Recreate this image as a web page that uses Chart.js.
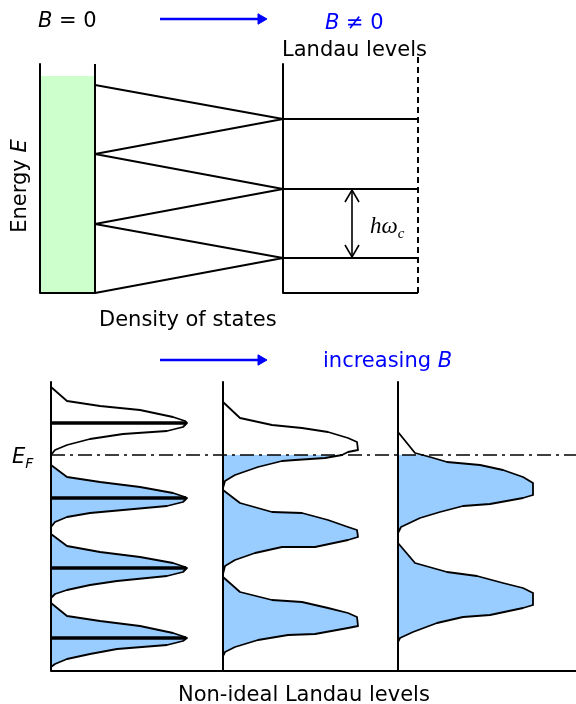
<!DOCTYPE html>
<html>
<head>
<meta charset="utf-8">
<script src="https://cdn.jsdelivr.net/npm/chart.js@4.4.1/dist/chart.umd.min.js"></script>
<style>
html,body{margin:0;padding:0;background:#fff}
canvas{display:block}
</style>
</head>
<body>
<canvas id="fig" width="576" height="704"></canvas>
<script>
// Landau levels figure — everything in drawing units (x right, y down)

// --- top: B = 0 density of states -> ideal Landau levels
var dosBand  = [[40,76],[95,76],[95,293],[40,293]];
var dosBox   = [[40,64],[40,293],[95,293],[95,64]];
var fanLines = [[95,85],[283,119],[95,154],[283,189],[95,224],[283,258],[95,293]];
var llFrame  = [[283,64],[283,293],[418,293]];
var llDashed = [[418,57],[418,293]];
var llLevels = [119,189,258];
var llSpan   = [283,418];
var hwArrow  = [[352,190],[352,257]];
var hwHeadUp = [[345,202],[352,190],[359,202]];
var hwHeadDn = [[345,245],[352,257],[359,245]];
var arrowTop = [[160,19],[261,19]];

// --- bottom: broadened levels for increasing B
var arrowBot = [[160,360],[261,360]];
var panelX   = [51,223,398];
var panelY   = [382,671];
var baseLine = [[51,671],[576,671]];
var fermi    = [[51,455],[576,455]];

var peakA1 = [[51,387],[67,401],[100,406],[140,410],[173,417],[185,421],[187,423],[183,427],[167,431],[123,434],[90,439],[67,445],[55,450],[51,455]];
var peakA2 = [[51,465],[67,477],[100,482],[140,487],[173,493],[185,497],[187,498],[183,502],[167,506],[123,510],[90,513],[67,517],[55,522],[51,527]];
var peakA3 = [[51,534],[67,546],[100,552],[140,557],[173,563],[185,567],[187,568],[183,572],[167,576],[117,581],[90,585],[67,590],[55,594],[51,598]];
var peakA4 = [[51,603],[67,616],[100,621],[140,626],[173,633],[185,637],[187,638],[183,641],[167,645],[117,649],[90,654],[67,659],[55,664],[51,667]];
var barsA  = [423,498,568,638];
var barEnd = [51,186];

var peakB1 = [[223,402],[240,418],[272,425],[302,428],[328,432],[348,438],[357,442],[358,450],[348,452],[342,455],[325,458],[295,460],[282,461],[258,467],[235,475],[225,481],[223,488]];
var fillB1 = [[223,455],[342,455],[325,458],[295,460],[282,461],[258,467],[235,475],[225,481],[223,488]];
var peakB2 = [[223,490],[240,503],[272,512],[302,513],[328,520],[348,527],[357,530],[358,537],[348,540],[315,547],[282,547],[255,553],[235,560],[225,566],[223,574]];
var peakB3 = [[223,577],[240,592],[272,600],[302,602],[328,608],[348,613],[357,617],[358,626],[348,628],[315,634],[288,635],[258,640],[235,647],[225,652],[223,656]];

var peakC1 = [[398,432],[415,453],[430,457],[447,462],[480,465],[503,470],[523,477],[533,483],[533,495],[523,498],[490,504],[463,506],[440,512],[420,518],[401,527],[398,533]];
var fillC1 = [[398,455],[422,455],[430,457],[447,462],[480,465],[503,470],[523,477],[533,483],[533,495],[523,498],[490,504],[463,506],[440,512],[420,518],[401,527],[398,533]];
var peakC2 = [[398,543],[415,563],[447,572],[477,576],[503,583],[523,588],[533,593],[533,605],[523,608],[490,615],[463,617],[437,623],[413,632],[400,638],[398,642]];

var GREEN='#ccffcc', BLUE='#99ccff', INK='#0000ff';
var SANS='"DejaVu Sans", Verdana, sans-serif', SERIF='"Liberation Serif", "Times New Roman", serif';

// text runs: [text, style]  (''=regular, 'i'=oblique, 's'=oblique subscript, 'm'=serif math, 'ms'=serif math subscript)
var LABELS = [
  {at:[38,27],  runs:[['B','i'],[' = 0','']]},
  {at:[325,29], runs:[['B','i'],[' \u2260 0','']], color:INK},
  {at:[282,56], runs:[['Landau levels','']]},
  {at:[26,186], rot:true, runs:[['Energy ',''],['E','i']]},
  {at:[99,326], runs:[['Density of states','']]},
  {at:[370,233],runs:[['h','m'],['\u03c9','m'],['c','ms']]},
  {at:[323,367],runs:[['increasing ',''],['B','i']], color:INK},
  {at:[12,463], runs:[['E','i'],['F','s']]},
  {at:[178,701],runs:[['Non-ideal Landau levels','']]}
];

function P(a){return a.map(function(p){return {x:p[0],y:p[1]}})}
function ln(pts,o){return Object.assign({data:P(pts),borderColor:'#000',borderWidth:2,pointRadius:0,fill:false,tension:0,borderJoinStyle:'round',order:10},o||{})}
function area(pts,col){return ln(pts,{fill:'shape',backgroundColor:col,borderColor:'rgba(0,0,0,0)',order:40})}
function arrow(pts){return ln(pts,{borderColor:INK,borderWidth:2.6,pointRadius:[0,6],pointStyle:'triangle',pointRotation:90,pointBackgroundColor:INK,pointBorderColor:INK,pointBorderWidth:1})}

var ds=[];
// fills first
ds.push(area(dosBand,GREEN));
[peakA2,peakA3,peakA4,fillB1,peakB2,peakB3,fillC1,peakC2].forEach(function(p){ds.push(area(p,BLUE))});
// top diagram
ds.push(ln(dosBox));
ds.push(ln(fanLines));
ds.push(ln(llFrame));
ds.push(ln(llDashed,{borderDash:[6,4]}));
llLevels.forEach(function(y){ds.push(ln([[llSpan[0],y],[llSpan[1],y]]))});
ds.push(ln(hwArrow,{borderWidth:1.6}),ln(hwHeadUp,{borderWidth:1.6,borderJoinStyle:'miter'}),ln(hwHeadDn,{borderWidth:1.6,borderJoinStyle:'miter'}));
ds.push(arrow(arrowTop),arrow(arrowBot));
// bottom diagram
ds.push(ln(fermi,{borderWidth:1.6,borderDash:[14,5,3,5],order:20}));
[peakA1,peakA2,peakA3,peakA4,peakB1,peakB2,peakB3,peakC1,peakC2].forEach(function(p){ds.push(ln(p,{borderWidth:1.8}))});
barsA.forEach(function(y){ds.push(ln([[barEnd[0],y],[barEnd[1],y]],{borderWidth:3.6,order:5}))});
panelX.forEach(function(x){ds.push(ln([[x,panelY[0]],[x,panelY[1]]],{borderWidth:2,order:5}))});
ds.push(ln(baseLine,{borderWidth:2,order:5}));

function fontFor(st){
  if(st==='i')return 'italic 21px '+SANS;
  if(st==='s')return 'italic 14px '+SANS;
  if(st==='m')return 'italic 23px '+SERIF;
  if(st==='ms')return 'italic 15px '+SERIF;
  return '21px '+SANS;
}

var labelPlugin={
  id:'labels',
  afterDatasetsDraw:function(chart){
    var ctx=chart.ctx,xs=chart.scales.x,ys=chart.scales.y;
    LABELS.forEach(function(l){
      var x=xs.getPixelForValue(l.at[0]),y=ys.getPixelForValue(l.at[1]);
      ctx.save();
      ctx.fillStyle=l.color||'#000';ctx.textBaseline='alphabetic';ctx.textAlign='left';
      var w=0;
      l.runs.forEach(function(r){ctx.font=fontFor(r[1]);w+=ctx.measureText(r[0]).width});
      ctx.translate(x,y);
      var cx=0;
      if(l.rot){ctx.rotate(-Math.PI/2);cx=-w/2}
      l.runs.forEach(function(r){
        ctx.font=fontFor(r[1]);
        var dy=(r[1]==='s'||r[1]==='ms')?5:0;
        ctx.fillText(r[0],cx,dy);
        cx+=ctx.measureText(r[0]).width;
      });
      ctx.restore();
    });
  }
};

new Chart(document.getElementById('fig').getContext('2d'),{
  type:'line',
  data:{datasets:ds},
  options:{
    responsive:false,animation:false,events:[],
    layout:{padding:0,autoPadding:false},
    plugins:{legend:{display:false},tooltip:{enabled:false}},
    scales:{
      x:{type:'linear',min:0,max:576,display:false},
      y:{type:'linear',min:0,max:704,reverse:true,display:false}
    }
  },
  plugins:[labelPlugin]
});
</script>
</body>
</html>
